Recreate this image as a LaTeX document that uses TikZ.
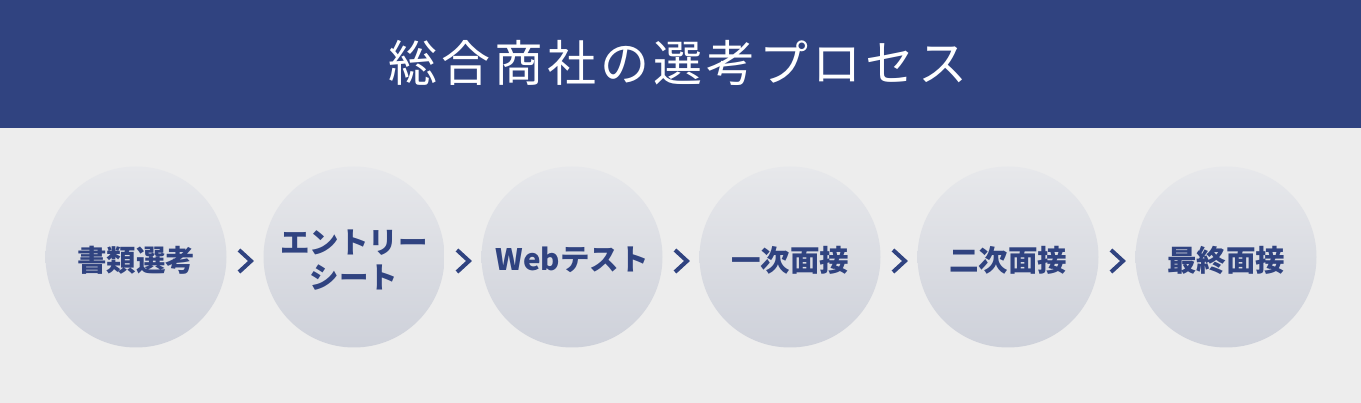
\documentclass[tikz,border=0pt]{standalone}
\usepackage{fontspec}
\usepackage{tikz}
\usetikzlibrary{calc}
\newfontfamily\jpfont{Noto Sans CJK JP}
\newfontfamily\titlefont{Noto Sans CJK JP}[LetterSpace=8]
\definecolor{navy}{HTML}{304380}
\definecolor{paper}{HTML}{EDEDED}
\definecolor{discTop}{HTML}{E7E8EB}
\definecolor{discBottom}{HTML}{CED1DA}

\begin{document}
\begin{tikzpicture}[x=1pt, y=-1pt,
    stagetext/.style={text=navy, align=center, yshift=-3pt, font=\jpfont\bfseries\fontsize{29.5}{35}\selectfont},
    stage/.style={circle, minimum size=181pt, inner sep=0pt, top color=discTop, bottom color=discBottom, label={[stagetext]center:#1}},
    chevron/.style={draw=navy, line width=4pt, miter limit=10}]
    % Background and header band
    \fill[paper] (0, 0) rectangle (1361, 403);
    \fill[navy] (0, 0) rectangle (1361, 128);
    \node[text=white, font=\titlefont\fontsize{49}{55}\selectfont] (title) at (678, 63) {総合商社の選考プロセス};

    % Stages
    \node[stage={書類選考}] (s1) at (136, 257) {};
    \node[stage={エントリー\\シート}] (s2) at (354, 257) {};
    \node[stage={Webテスト}] (s3) at (572, 257) {};
    \node[stage={一次面接}] (s4) at (790, 257) {};
    \node[stage={二次面接}] (s5) at (1008, 257) {};
    \node[stage={最終面接}] (s6) at (1226, 257) {};

    % Chevrons between stages
    \coordinate (c1) at ($(s1.east)!0.5!(s2.west) + (0, 4)$);
    \coordinate (c2) at ($(s2.east)!0.5!(s3.west) + (0, 4)$);
    \coordinate (c3) at ($(s3.east)!0.5!(s4.west) + (0, 4)$);
    \coordinate (c4) at ($(s4.east)!0.5!(s5.west) + (0, 4)$);
    \coordinate (c5) at ($(s5.east)!0.5!(s6.west) + (0, 4)$);

    \draw[chevron] ($(c1) + (-6, -11)$) -- ($(c1) + (6, 0)$) -- ($(c1) + (-6, 11)$);
    \draw[chevron] ($(c2) + (-6, -11)$) -- ($(c2) + (6, 0)$) -- ($(c2) + (-6, 11)$);
    \draw[chevron] ($(c3) + (-6, -11)$) -- ($(c3) + (6, 0)$) -- ($(c3) + (-6, 11)$);
    \draw[chevron] ($(c4) + (-6, -11)$) -- ($(c4) + (6, 0)$) -- ($(c4) + (-6, 11)$);
    \draw[chevron] ($(c5) + (-6, -11)$) -- ($(c5) + (6, 0)$) -- ($(c5) + (-6, 11)$);
\end{tikzpicture}
\end{document}
